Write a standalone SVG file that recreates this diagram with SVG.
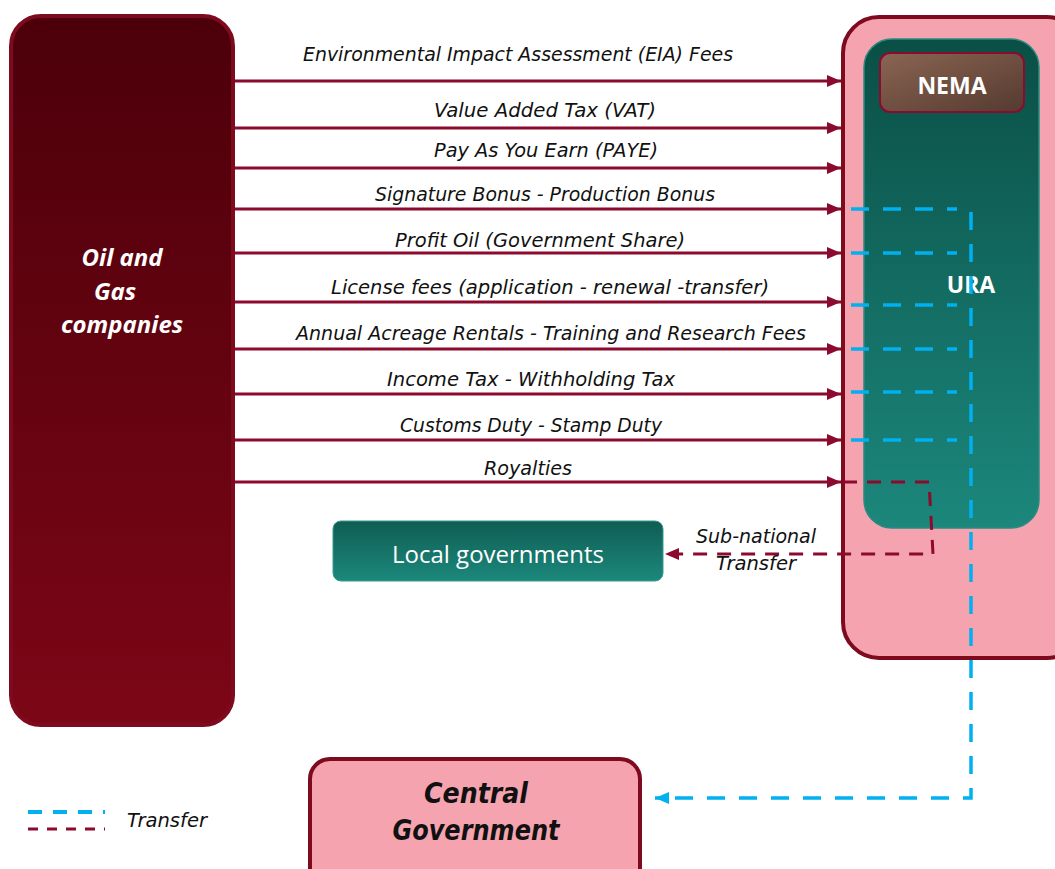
<svg xmlns="http://www.w3.org/2000/svg" width="1055" height="869" viewBox="0 0 1055 869">
<defs>
<linearGradient id="gOil" x1="0" y1="0" x2="0" y2="1"><stop offset="0" stop-color="#4c000a"/><stop offset="1" stop-color="#7c0616"/></linearGradient>
<linearGradient id="gUra" x1="0" y1="0" x2="0" y2="1"><stop offset="0" stop-color="#0a4f46"/><stop offset="1" stop-color="#1c877c"/></linearGradient>
<linearGradient id="gNema" x1="0" y1="0" x2="1" y2="1"><stop offset="0" stop-color="#8a6552"/><stop offset="1" stop-color="#553a30"/></linearGradient>
<linearGradient id="gLocal" x1="0" y1="0" x2="0" y2="1"><stop offset="0" stop-color="#0f5d53"/><stop offset="1" stop-color="#1c887c"/></linearGradient>
<marker id="ah" markerWidth="14" markerHeight="12" refX="14" refY="6" orient="auto" markerUnits="userSpaceOnUse"><path d="M0,0 L14,6 L0,12 Z" fill="#8c0a2e"/></marker>
<marker id="ahB" markerWidth="14" markerHeight="12" refX="14" refY="6" orient="auto" markerUnits="userSpaceOnUse"><path d="M0,0 L14,6 L0,12 Z" fill="#00b0f0"/></marker>
</defs>
<style>
.lbl{font-family:"DejaVu Sans",sans-serif;font-style:italic;font-size:20px;fill:#111;text-anchor:middle}
.flow{stroke:#8c0a2e;stroke-width:3;fill:none}
.blue{stroke:#00b0f0;stroke-width:3.5;fill:none;stroke-dasharray:18 14}
.red{stroke:#8c0a2e;stroke-width:3;fill:none;stroke-dasharray:14 10}
.wt{font-family:"Open Sans","DejaVu Sans",sans-serif;font-weight:bold;fill:#fff;text-anchor:middle}
.cg{font-family:"DejaVu Sans",sans-serif;font-style:italic;font-weight:bold;font-size:29px;fill:#111;text-anchor:middle}
</style>
<g id="oil-gas">
<rect x="11" y="16" width="222" height="709" rx="30" fill="url(#gOil)" stroke="#7e0a1e" stroke-width="4"/>
<text class="wt" font-style="italic" font-size="24" x="122" y="266">Oil and</text>
<text class="wt" font-style="italic" font-size="24" x="115" y="300">Gas</text>
<text class="wt" font-style="italic" font-size="24" x="122" y="333">companies</text>
</g>
<g id="government-agencies">
<rect x="843" y="17" width="240" height="641" rx="36" fill="#f6a3b0" stroke="#7e0a1e" stroke-width="4"/>
</g>
<g id="ura">
<rect x="864" y="39" width="175" height="489" rx="28" fill="url(#gUra)" stroke="#2a8a80" stroke-width="1.5"/>
<text class="wt" font-size="23" x="971" y="293">URA</text>
</g>
<g id="nema">
<rect x="880" y="53" width="144" height="59" rx="10" fill="url(#gNema)" stroke="#8c0a2e" stroke-width="2"/>
<text class="wt" font-size="23" x="952" y="94">NEMA</text>
</g>
<g id="local-governments">
<rect x="333" y="521" width="330" height="60" rx="8" fill="url(#gLocal)" stroke="#3a9a8e" stroke-width="1"/>
<text font-family="'Open Sans','DejaVu Sans',sans-serif" font-size="24" fill="#fff" text-anchor="middle" x="498" y="563">Local governments</text>
</g>
<g id="central-government">
<rect x="310" y="759" width="330" height="130" rx="20" fill="#f6a3b0" stroke="#7e0a1e" stroke-width="4"/>
<text class="cg" x="476" y="803" textLength="104" lengthAdjust="spacingAndGlyphs">Central</text>
<text class="cg" x="476" y="840" textLength="167" lengthAdjust="spacingAndGlyphs">Government</text>
</g>
<g id="connectors">
<line class="flow" x1="235" y1="81" x2="841" y2="81" marker-end="url(#ah)"/>
<line class="flow" x1="235" y1="128" x2="841" y2="128" marker-end="url(#ah)"/>
<line class="flow" x1="235" y1="168" x2="841" y2="168" marker-end="url(#ah)"/>
<line class="flow" x1="235" y1="209" x2="841" y2="209" marker-end="url(#ah)"/>
<line class="flow" x1="235" y1="253" x2="841" y2="253" marker-end="url(#ah)"/>
<line class="flow" x1="235" y1="302" x2="841" y2="302" marker-end="url(#ah)"/>
<line class="flow" x1="235" y1="349" x2="841" y2="349" marker-end="url(#ah)"/>
<line class="flow" x1="235" y1="394" x2="841" y2="394" marker-end="url(#ah)"/>
<line class="flow" x1="235" y1="440" x2="841" y2="440" marker-end="url(#ah)"/>
<line class="flow" x1="235" y1="482" x2="841" y2="482" marker-end="url(#ah)"/>
<text class="lbl" x="518" y="61" textLength="430" lengthAdjust="spacingAndGlyphs">Environmental Impact Assessment (EIA) Fees</text>
<text class="lbl" x="545" y="117" textLength="222" lengthAdjust="spacingAndGlyphs">Value Added Tax (VAT)</text>
<text class="lbl" x="546" y="157" textLength="224" lengthAdjust="spacingAndGlyphs">Pay As You Earn (PAYE)</text>
<text class="lbl" x="545" y="201" textLength="340" lengthAdjust="spacingAndGlyphs">Signature Bonus - Production Bonus</text>
<text class="lbl" x="540" y="247" textLength="290" lengthAdjust="spacingAndGlyphs">Profit Oil (Government Share)</text>
<text class="lbl" x="550" y="294" textLength="438" lengthAdjust="spacingAndGlyphs">License fees (application - renewal -transfer)</text>
<text class="lbl" x="551" y="340" textLength="510" lengthAdjust="spacingAndGlyphs">Annual Acreage Rentals - Training and Research Fees</text>
<text class="lbl" x="531" y="386" textLength="288" lengthAdjust="spacingAndGlyphs">Income Tax - Withholding Tax</text>
<text class="lbl" x="531" y="432" textLength="262" lengthAdjust="spacingAndGlyphs">Customs Duty - Stamp Duty</text>
<text class="lbl" x="528" y="475" textLength="88" lengthAdjust="spacingAndGlyphs">Royalties</text>
<line class="blue" x1="851" y1="209" x2="957" y2="209"/>
<line class="blue" x1="851" y1="253" x2="957" y2="253"/>
<line class="blue" x1="851" y1="305" x2="957" y2="305"/>
<line class="blue" x1="851" y1="349" x2="957" y2="349"/>
<line class="blue" x1="851" y1="392" x2="957" y2="392"/>
<line class="blue" x1="851" y1="440" x2="957" y2="440"/>
<path class="blue" d="M971,212 L971,798 L655,798" marker-end="url(#ahB)"/>
<path class="red" d="M843,482 L929,482 L933,554 L665,554" marker-end="url(#ah)"/>
<text class="lbl" x="756" y="543" textLength="120" lengthAdjust="spacingAndGlyphs">Sub-national</text>
<text class="lbl" x="756" y="570" textLength="80" lengthAdjust="spacingAndGlyphs">Transfer</text>
</g>
<g id="legend">
<line x1="28" y1="812" x2="105" y2="812" stroke="#00b0f0" stroke-width="4" stroke-dasharray="14 11"/>
<line x1="28" y1="829" x2="105" y2="829" stroke="#8c0a2e" stroke-width="3" stroke-dasharray="10 9"/>
<text font-family="'DejaVu Sans',sans-serif" font-style="italic" font-size="20" fill="#111" x="127" y="827" textLength="80" lengthAdjust="spacingAndGlyphs">Transfer</text>
</g>
</svg>
